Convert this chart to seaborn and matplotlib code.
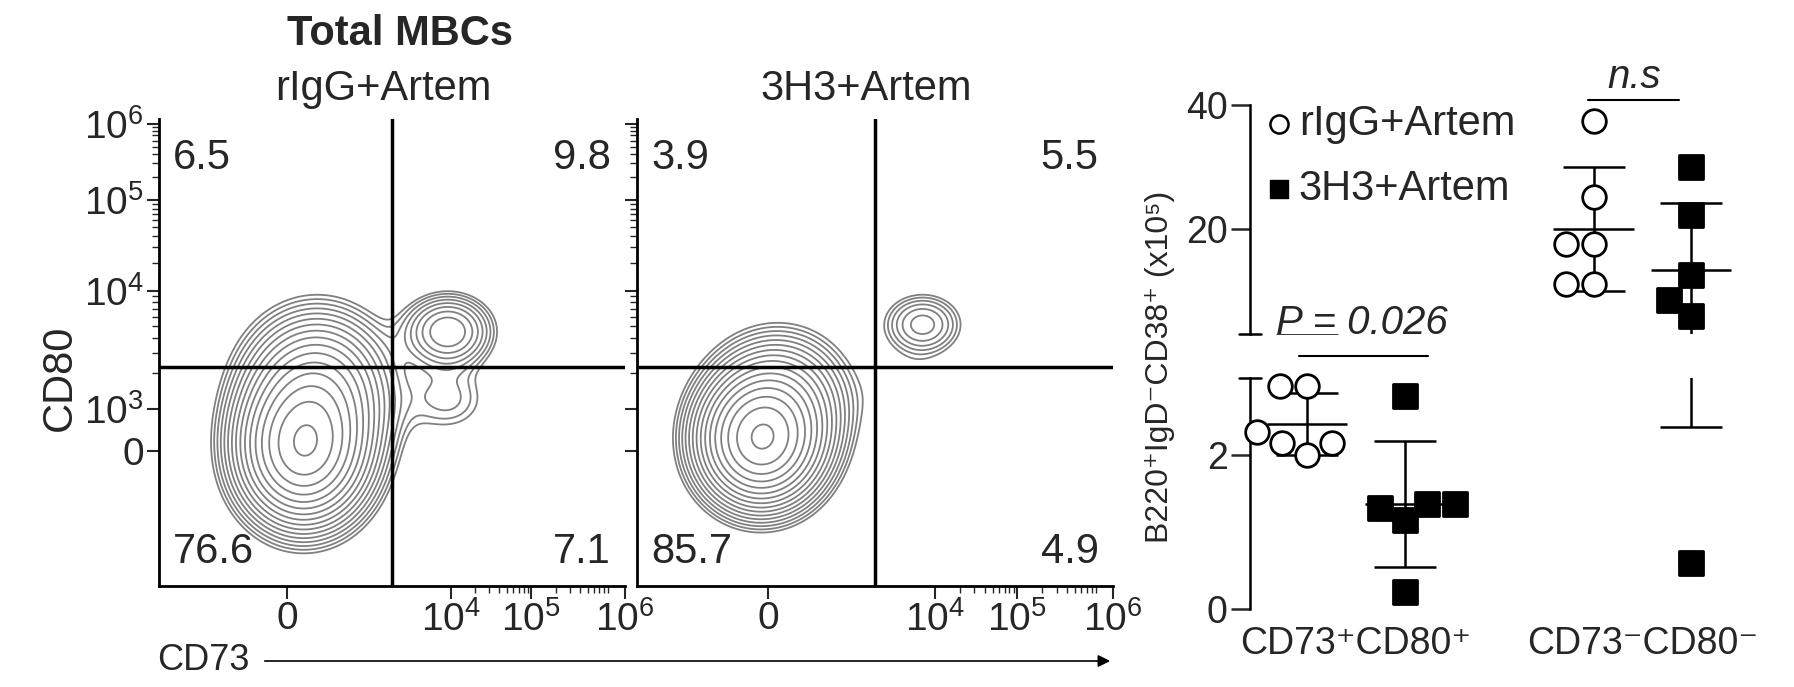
import numpy as np
import pandas as pd
import matplotlib
matplotlib.use("Agg")
import matplotlib.pyplot as plt
import seaborn as sns

sns.set_style("white")
plt.rcParams["font.family"] = ["Liberation Sans", "DejaVu Sans"]
plt.rcParams["mathtext.fontset"] = "custom"
plt.rcParams["mathtext.rm"] = "Liberation Sans"

# ---- flow panels (axis positions as fraction of the plotted decade scale) ----
flow_titles = ["rIgG+Artem", "3H3+Artem"]
quad_pcts = [["6.5", "9.8", "76.6", "7.1"], ["3.9", "5.5", "85.7", "4.9"]]
xtick_pos = [0.275, 0.626, 0.799, 1.0]
xtick_lab = ["0", "$10^4$", "$10^5$", "$10^6$"]
ytick_pos = [0.29, 0.379, 0.632, 0.827, 0.99]
ytick_lab = ["0", "$10^3$", "$10^4$", "$10^5$", "$10^6$"]
gate_x, gate_y = 0.499, 0.469
# population components: (x, y, sx, sy, weight)
pops = [
    [(0.31, 0.29, 0.075, 0.085, 1.0), (0.34, 0.42, 0.085, 0.09, 0.45),
     (0.62, 0.545, 0.055, 0.045, 0.22), (0.62, 0.40, 0.06, 0.05, 0.06)],
    [(0.26, 0.31, 0.07, 0.075, 1.0), (0.30, 0.40, 0.08, 0.08, 0.25),
     (0.60, 0.56, 0.05, 0.04, 0.12), (0.58, 0.42, 0.06, 0.05, 0.03)],
]

# ---- counts panel ----
groups = ["CD73⁺CD80⁺", "CD73⁻CD80⁻"]
rigg_pos = [2.9, 2.9, 2.3, 2.0, 2.15, 2.15]
h3_pos = [2.77, 1.37, 1.31, 1.36, 1.16, 0.22]
rigg_neg = [37.4, 25.2, 17.6, 17.6, 11.1, 11.1]
h3_neg = [30.0, 22.2, 12.6, 8.5, 5.9, 0.6]

W, H = 1794, 687
fig = plt.figure(figsize=(W / 100, H / 100), dpi=100)

def box(x0, y0, x1, y1):
    return [x0 / W, 1 - y1 / H, (x1 - x0) / W, (y1 - y0) / H]

gx, gy = np.meshgrid(np.linspace(0, 1, 300), np.linspace(0, 1, 300))
for i, (x0, x1) in enumerate([(159, 625), (637, 1113)]):
    ax = fig.add_axes(box(x0, 119, x1, 586))
    dens = np.zeros_like(gx)
    for cx, cy, sx, sy, w in pops[i]:
        dens += w * np.exp(-((gx - cx) ** 2 / (2 * sx ** 2) + (gy - cy) ** 2 / (2 * sy ** 2)))
    levels = dens.max() * np.geomspace(0.03, 0.95, 16)
    ax.contour(gx, gy, dens, levels=levels, colors="#808080", linewidths=1.3)
    ax.axvline(gate_x, color="black", lw=2.5)
    ax.axhline(gate_y, color="black", lw=2.5)
    ax.set_xlim(0, 1)
    ax.set_ylim(0, 1)
    ax.set_xticks(xtick_pos)
    ax.set_xticklabels(xtick_lab, fontsize=28)
    ax.set_yticks(ytick_pos)
    ax.set_yticklabels(ytick_lab if i == 0 else [], fontsize=28)
    minor_x = [p + f * 0.173 for p in xtick_pos[1:3] for f in np.log10(np.arange(2, 10))]
    minor_y = [p + f * d for p, d in zip(ytick_pos[1:4], [0.253, 0.195, 0.163]) for f in np.log10(np.arange(2, 10))]
    ax.set_xticks(minor_x, minor=True)
    ax.set_yticks(minor_y, minor=True)
    ax.tick_params(axis="both", which="major", length=9, width=1.5, direction="out", pad=2)
    ax.tick_params(axis="both", which="minor", length=5, width=1)
    ax.tick_params(left=True, bottom=True, which="both")
    for s in ["top", "right"]:
        ax.spines[s].set_visible(False)
    for s in ["left", "bottom"]:
        ax.spines[s].set_linewidth(2)
        ax.spines[s].set_color("black")
    tl, tr, bl, br = quad_pcts[i]
    kw = dict(transform=ax.transAxes, fontsize=30)
    ax.text(0.03, 0.96, tl, ha="left", va="top", **kw)
    ax.text(0.97, 0.96, tr, ha="right", va="top", **kw)
    ax.text(0.03, 0.03, bl, ha="left", va="bottom", **kw)
    ax.text(0.97, 0.03, br, ha="right", va="bottom", **kw)
    fig.text((x0 + x1) / 2 / W - 0.005, 1 - 89 / H, flow_titles[i], ha="center", va="center", fontsize=30)

fig.text(400 / W, 1 - 34 / H, "Total MBCs", ha="center", va="center", fontsize=30, fontweight="bold")
fig.text(60 / W, 1 - 378 / H, "CD80", rotation=90, ha="center", va="center", fontsize=30)
fig.text(157 / W, 1 - 661 / H, "CD73", ha="left", va="center", fontsize=26)
fig.add_artist(matplotlib.patches.FancyArrowPatch((262 / W, 1 - 661 / H), (1113 / W, 1 - 661 / H),
                                                  transform=fig.transFigure, arrowstyle="-|>",
                                                  mutation_scale=18, lw=1.2, color="black"))

# ---- broken-axis dot plot ----
rows = []
for gi, (a, b) in enumerate([(rigg_pos, h3_pos), (rigg_neg, h3_neg)]):
    rows += [dict(pos=gi - 0.17, val=v, grp="rIgG+Artem") for v in a]
    rows += [dict(pos=gi + 0.17, val=v, grp="3H3+Artem") for v in b]
df = pd.DataFrame(rows)

ax_hi = fig.add_axes(box(1250, 105, W, 334))
ax_lo = fig.add_axes(box(1250, 378, W, 609))
for ax, lim in [(ax_hi, (3, 40)), (ax_lo, (0, 3))]:
    ax.set_ylim(*lim)
    ax.set_xlim(-0.37, 1.53)
    for grp, mk, fc in [("rIgG+Artem", "o", "white"), ("3H3+Artem", "s", "black")]:
        sub = df[df.grp == grp]
        shown = sub[(sub.val >= lim[0]) & (sub.val <= lim[1])]
        sns.swarmplot(data=shown, x="pos", y="val", native_scale=True, orient="x", ax=ax,
                      marker=mk, color=fc, edgecolor="black", linewidth=2, size=17, zorder=3)
        for p, g in sub.groupby("pos"):
            m, sd = g.val.mean(), g.val.std()
            ax.errorbar(p, m, yerr=sd, fmt="none", ecolor="black", elinewidth=1.8,
                        capsize=22, capthick=1.8, zorder=2)
            ax.hlines(m, p - 0.14, p + 0.14, color="black", lw=1.8, zorder=2)
    for c in ax.collections:
        if isinstance(c, matplotlib.collections.PathCollection):
            c.set_clip_on(False)
    ax.set_xlim(-0.37, 1.53)
    ax.set_ylim(*lim)
    sns.despine(ax=ax, bottom=True)
    ax.spines["left"].set_linewidth(1.8)
    ax.spines["left"].set_color("black")
    ax.tick_params(axis="y", length=14, width=1.8, labelsize=27, left=True, pad=2)
    ax.set_xlabel("")
    ax.set_ylabel("")
    ax.set_facecolor("none")

ax_hi.set_yticks([20, 40])
ax_hi.set_xticks([])
ax_lo.set_yticks([0, 2])
ax_lo.set_xticks([0, 1])
ax_lo.set_xticklabels(groups, fontsize=27)
ax_lo.tick_params(axis="x", length=0, pad=12)
# break caps
ax_hi.plot([-0.37 - 0.04, -0.37 + 0.04], [3, 3], color="black", lw=1.8, clip_on=False)
ax_lo.plot([-0.37 - 0.04, -0.37 + 0.04], [3, 3], color="black", lw=1.8, clip_on=False)

# legend
ax_hi.scatter([-0.27], [37], marker="o", s=170, facecolor="white", edgecolor="black", lw=1.8, clip_on=False)
ax_hi.scatter([-0.27], [26.5], marker="s", s=170, facecolor="black", clip_on=False)
ax_hi.text(-0.2, 37, "rIgG+Artem", fontsize=30, va="center")
ax_hi.text(-0.2, 26.5, "3H3+Artem", fontsize=30, va="center")

# stats
ax_lo.plot([-0.2, 0.25], [3.28, 3.28], color="black", lw=1.5, clip_on=False)
ax_lo.text(-0.28, 3.72, "P = 0.026", fontsize=29, style="italic", ha="left", va="center", clip_on=False)
ax_hi.plot([0.81, 1.13], [40.8, 40.8], color="black", lw=1.5, clip_on=False)
ax_hi.text(0.97, 41.5, "n.s", fontsize=29, style="italic", ha="center", va="bottom", clip_on=False)

fig.text(1160 / W, 1 - 367 / H, "B220⁺IgD⁻CD38⁺ (x10⁵)", rotation=90, ha="center", va="center", fontsize=23)

fig.savefig("out.png", dpi=100)
